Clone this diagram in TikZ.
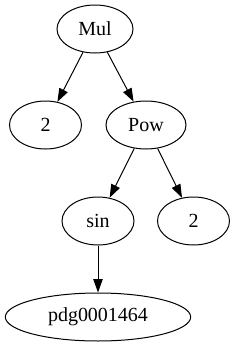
\documentclass[tikz,border=0pt]{standalone}
\usepackage{fontspec}
\setmainfont{Liberation Serif}
\usetikzlibrary{arrows.meta,shapes.geometric}

\begin{document}
\begin{tikzpicture}[x=0.75pt,y=-0.75pt]
\tikzset{
  graphnode/.style={ellipse,draw,line width=0.75pt,minimum height=36pt,inner sep=1pt,font=\fontsize{15}{17}\selectfont},
  directed/.style={-{Triangle[length=10pt,width=7pt]},line width=0.75pt}
}
\useasboundingbox (0,0) rectangle (235,347);
\node[graphnode,minimum width=57pt] (n_mul) at (95,29) {Mul};
\node[graphnode,minimum width=54pt] (n_two0) at (45.5,125) {2};
\node[graphnode,minimum width=60pt] (n_pow) at (146,125) {Pow};
\node[graphnode,minimum width=54pt] (n_sin) at (98,221) {sin};
\node[graphnode,minimum width=54pt] (n_two1) at (193.5,221) {2};
\node[graphnode,minimum width=139pt] (n_pdg) at (98,317) {pdg0001464};
\draw[directed] (n_mul) -- (n_two0);
\draw[directed] (n_mul) -- (n_pow);
\draw[directed] (n_pow) -- (n_sin);
\draw[directed] (n_pow) -- (n_two1);
\draw[directed] (n_sin) -- (n_pdg);
\end{tikzpicture}
\end{document}
